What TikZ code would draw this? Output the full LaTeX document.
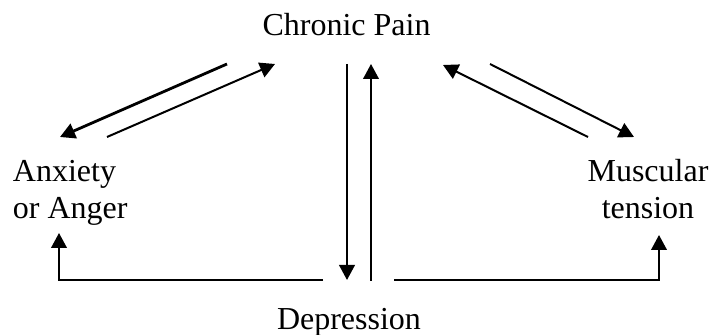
\documentclass[tikz,border=0pt]{standalone}
\usepackage{fontspec}
\setmainfont{Liberation Serif}
\usetikzlibrary{arrows.meta}

\tikzset{
  lbl/.style={inner sep=0.75pt, font=\fontsize{16}{18.5}\selectfont},
  link/.style={line width=1pt, -{Triangle[length=7.5pt,width=7.8pt]}},
}

\begin{document}
\begin{tikzpicture}[x=0.5pt,y=0.5pt,yscale=-1,xscale=1]
%set diagram size to the 711 x 335 frame
\useasboundingbox (0,0) rectangle (711,335);

% Text Node
\node (pain) [lbl, anchor=base] at (346.5,36) {Chronic Pain};
% Text Node
\node (anx) [lbl, anchor=base west, align=left] at (11,219) {Anxiety\\or Anger};
% Text Node
\node (mus) [lbl, anchor=base, align=center] at (648,219) {Muscular\\tension};
% Text Node
\node (dep) [lbl, anchor=base] at (349,330) {Depression};

%Ends of the arrows
\coordinate (painA) at (227,64);   \coordinate (anxA) at (60,137);
\coordinate (anxB) at (107,137);   \coordinate (painB) at (275,64);
\coordinate (painC) at (347,64);   \coordinate (depC) at (347,280);
\coordinate (depD) at (371,281);   \coordinate (painD) at (371,64);
\coordinate (musE) at (588,137);   \coordinate (painE) at (443,65);
\coordinate (painF) at (490,64);   \coordinate (musF) at (634,137);
\coordinate (depG) at (323,280);   \coordinate (anxG) at (59,233);
\coordinate (depH) at (394,280);   \coordinate (musH) at (659,235);

%Straight Lines
\draw [link, line width=1.4pt] (painA) -- (anxA);
\draw [link] (anxB) -- (painB);
%Straight Lines
\draw [link] (painC) -- (depC);
\draw [link] (depD) -- (painD);
%Straight Lines
\draw [link] (musE) -- (painE);
\draw [link] (painF) -- (musF);
%Straight Lines
\draw [link] (depG) -| (anxG);
\draw [link] (depH) -| (musH);

\end{tikzpicture}
\end{document}
